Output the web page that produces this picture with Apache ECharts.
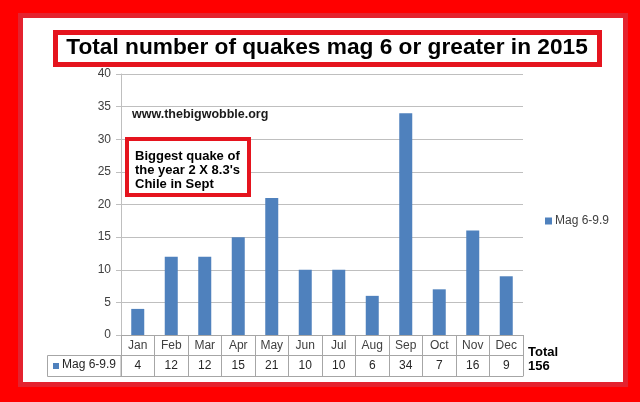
<!DOCTYPE html>
<html>
<head>
<meta charset="utf-8">
<script src="https://cdn.jsdelivr.net/npm/echarts@6/dist/echarts.min.js"></script>
<style>
html,body{margin:0;padding:0;background:#ff0000;}
#chart{width:640px;height:402px;}
</style>
</head>
<body>
<div id="chart"></div>
<script>
var months = ['Jan','Feb','Mar','Apr','May','Jun','Jul','Aug','Sep','Oct','Nov','Dec'];
var quakes = [4, 12, 12, 15, 21, 10, 10, 6, 34, 7, 16, 9];
var seriesName = 'Mag 6-9.9';
var yTicks = {min: 0, max: 40, interval: 5};
var titleText = 'Total number of quakes mag 6 or greater in 2015';
var siteText = 'www.thebigwobble.org';
var noteLines = ['Biggest quake of', "the year 2 X 8.3's", 'Chile in Sept'];

var FONT = '"Liberation Sans", Arial, sans-serif';
var total = quakes.reduce(function(a, b){ return a + b; }, 0);
var chart = echarts.init(document.getElementById('chart'));

chart.setOption({
  backgroundColor: '#ff0000',
  animation: false,
  textStyle: {fontFamily: FONT},
  title: {
    text: titleText,
    left: 327, top: 35, padding: 0,
    textAlign: 'center',
    textStyle: {fontFamily: FONT, fontSize: 22.7, fontWeight: 'bold', color: '#000', lineHeight: 26}
  },
  legend: {
    data: [seriesName],
    left: 545, top: 215, padding: 0,
    icon: 'rect', itemWidth: 7, itemHeight: 7,
    textStyle: {fontFamily: FONT, fontSize: 12, color: '#404040', padding: [0,0,0,-2]}
  },
  grid: {left: 121, right: 117, top: 74, bottom: 67, containLabel: false},
  xAxis: [
    {
      type: 'category', data: months, position: 'bottom',
      axisLine: {show: true, lineStyle: {color: '#a6a6a6', width: 1}},
      axisTick: {show: true, length: 41, interval: 0, lineStyle: {color: '#a6a6a6'}},
      axisLabel: {interval: 0, margin: 5, fontSize: 12, color: '#404040', fontFamily: FONT},
      splitLine: {show: false}
    },
    {
      type: 'category', data: quakes.map(String), position: 'bottom', offset: 20,
      axisLine: {show: true, lineStyle: {color: '#a6a6a6', width: 1}},
      axisTick: {show: false},
      axisLabel: {interval: 0, margin: 5, fontSize: 12, color: '#262626', fontFamily: FONT},
      splitLine: {show: false}
    },
    {
      type: 'category', data: months, position: 'bottom', offset: 41,
      axisLine: {show: true, lineStyle: {color: '#a6a6a6', width: 1}},
      axisTick: {show: false},
      axisLabel: {show: false},
      splitLine: {show: false}
    }
  ],
  yAxis: {
    type: 'value', min: yTicks.min, max: yTicks.max, interval: yTicks.interval,
    axisLine: {show: true, lineStyle: {color: '#bfbfbf'}},
    axisTick: {show: true, length: 5, lineStyle: {color: '#bfbfbf'}},
    axisLabel: {margin: 10, fontSize: 12, color: '#404040', fontFamily: FONT},
    splitLine: {show: true, lineStyle: {color: '#bfbfbf', width: 1}}
  },
  series: [{
    name: seriesName, type: 'bar', data: quakes, barWidth: 13,
    xAxisIndex: 0, yAxisIndex: 0,
    itemStyle: {color: '#4f81bd'}
  }],
  graphic: [
    {type: 'rect', z: -10, silent: true,
     shape: {x: 20.5, y: 15.5, width: 605, height: 369},
     style: {fill: '#ffffff', stroke: '#e4222e', lineWidth: 5}},
    {type: 'rect', z: 1, silent: true,
     shape: {x: 55.5, y: 32.5, width: 544, height: 32},
     style: {fill: '#ffffff', stroke: '#e5141e', lineWidth: 5}},
    {type: 'text', z: 10, silent: true, left: 132, top: 108,
     style: {text: siteText, font: 'bold 12.5px ' + FONT, fill: '#1a1a1a'}},
    {type: 'rect', z: 10, silent: true,
     shape: {x: 127, y: 139, width: 122, height: 56},
     style: {fill: '#ffffff', stroke: '#e5141e', lineWidth: 4}},
    {type: 'text', z: 11, silent: true, left: 135, top: 149,
     style: {text: noteLines.join('\n'), font: 'bold 13px ' + FONT, lineHeight: 14, fill: '#000'}},
    {type: 'rect', z: 5, silent: true,
     shape: {x: 47.5, y: 355.5, width: 73.5, height: 21},
     style: {fill: 'none', stroke: '#a6a6a6', lineWidth: 1}},
    {type: 'rect', z: 6, silent: true,
     shape: {x: 53, y: 363, width: 6, height: 6},
     style: {fill: '#4f81bd'}},
    {type: 'text', z: 6, silent: true, left: 62, top: 359,
     style: {text: seriesName, font: '12px ' + FONT, fill: '#262626'}},
    {type: 'text', z: 6, silent: true, left: 528, top: 345,
     style: {text: 'Total\n' + total, font: 'bold 13px ' + FONT, lineHeight: 14, fill: '#000'}}
  ]
});
</script>
</body>
</html>
